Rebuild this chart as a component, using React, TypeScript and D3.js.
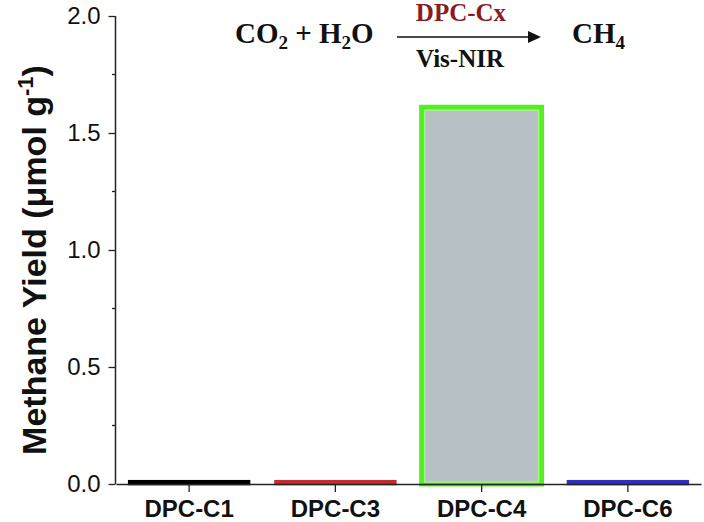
import React, { useRef, useEffect } from "react";
import * as d3 from "d3";

const categories = ["DPC-C1", "DPC-C3", "DPC-C4", "DPC-C6"];
const yields = [0.012, 0.012, 1.61, 0.012];
const barFills = ["#000000", "#C62A2F", "#B7C1C5", "#2F2FC4"];
const barStrokes = ["#000000", "#C62A2F", "#55EE22", "#2F2FC4"];
const yTicks = [0, 0.5, 1.0, 1.5, 2.0];
const yMinorTicks = [0.25, 0.75, 1.25, 1.75];

const App = () => {
  const svgRef = useRef<SVGSVGElement>(null);

  useEffect(() => {
    const width = 704;
    const height = 522;
    const margin = { top: 16, right: 3, bottom: 38, left: 116 };

    const svg = d3
      .select(svgRef.current)
      .attr("width", width)
      .attr("height", height)
      .html("");

    const x = d3
      .scaleBand()
      .domain(categories)
      .range([margin.left, width - margin.right])
      .paddingInner(0.18)
      .paddingOuter(0.09);

    const y = d3
      .scaleLinear()
      .domain([0, 2])
      .range([height - margin.bottom, margin.top]);

    // bars
    categories.forEach((c, i) => {
      const big = yields[i] > 0.5;
      const sw = big ? 5 : 2.5;
      svg
        .append("rect")
        .attr("x", x(c)!)
        .attr("y", y(yields[i]))
        .attr("width", x.bandwidth())
        .attr("height", y(0) - y(yields[i]))
        .attr("fill", barFills[i])
        .attr("stroke", barStrokes[i])
        .attr("stroke-width", sw);
      if (big) {
        svg
          .append("rect")
          .attr("x", x(c)! + 3)
          .attr("y", y(yields[i]) + 3)
          .attr("width", x.bandwidth() - 6)
          .attr("height", y(0) - y(yields[i]) - 5)
          .attr("fill", "none")
          .attr("stroke", "#A6F38A")
          .attr("stroke-width", 1.5);
      }
    });

    // y axis
    const yAxis = svg
      .append("g")
      .attr("transform", `translate(${margin.left - 0.5},0)`)
      .call(d3.axisLeft(y).tickValues(yTicks).tickSize(7).tickFormat(d3.format(".1f")));
    yAxis.select(".domain").attr("stroke", "#222").attr("stroke-width", 1.5).attr("d", `M0,${y(2)}V${y(0)}`);
    yAxis.selectAll(".tick line").attr("stroke", "#222").attr("stroke-width", 1.3);
    yAxis
      .selectAll(".tick text")
      .attr("x", -15)
      .attr("font-family", "Liberation Sans, Arial, sans-serif")
      .attr("font-size", 24)
      .attr("fill", "#111");
    svg
      .append("g")
      .selectAll("line")
      .data(yMinorTicks)
      .join("line")
      .attr("x1", margin.left - 4)
      .attr("x2", margin.left)
      .attr("y1", (d) => y(d))
      .attr("y2", (d) => y(d))
      .attr("stroke", "#222")
      .attr("stroke-width", 1.3);

    // x axis
    const xAxis = svg
      .append("g")
      .attr("transform", `translate(0,${y(0)})`)
      .call(d3.axisBottom(x).tickSize(8).tickSizeOuter(0));
    xAxis.select(".domain").attr("stroke", "#222").attr("stroke-width", 1.5);
    xAxis.selectAll(".tick line").attr("stroke", "#222").attr("stroke-width", 1.3);
    xAxis
      .selectAll(".tick text")
      .attr("y", 16)
      .attr("font-family", "Liberation Sans, Arial, sans-serif")
      .attr("font-weight", "bold")
      .attr("font-size", 24)
      .attr("fill", "#111");

    // y title
    const yt = svg
      .append("text")
      .attr("transform", `translate(46,${(y(0) + y(2)) / 2 + 10}) rotate(-90)`)
      .attr("text-anchor", "middle")
      .attr("font-family", "Liberation Sans, Arial, sans-serif")
      .attr("font-weight", "bold")
      .attr("font-size", 34)
      .attr("fill", "#111");
    yt.append("tspan").text("Methane Yield (\u03bcmol g");
    yt.append("tspan").attr("dy", -13).attr("font-size", 22).text("-1");
    yt.append("tspan").attr("dy", 13).text(")");

    // reaction scheme
    const serif = "Liberation Serif, Times New Roman, serif";
    const eq = svg
      .append("text")
      .attr("x", 235)
      .attr("y", 43)
      .attr("font-family", serif)
      .attr("font-weight", "bold")
      .attr("font-size", 29)
      .attr("fill", "#111");
    eq.append("tspan").text("CO");
    eq.append("tspan").attr("dy", 6).attr("font-size", 19).text("2");
    eq.append("tspan").attr("dy", -6).text(" + H");
    eq.append("tspan").attr("dy", 6).attr("font-size", 19).text("2");
    eq.append("tspan").attr("dy", -6).text("O");

    const prod = svg
      .append("text")
      .attr("x", 572)
      .attr("y", 43)
      .attr("font-family", serif)
      .attr("font-weight", "bold")
      .attr("font-size", 29)
      .attr("fill", "#111");
    prod.append("tspan").text("CH");
    prod.append("tspan").attr("dy", 6).attr("font-size", 19).text("4");

    svg
      .append("line")
      .attr("x1", 397)
      .attr("x2", 530)
      .attr("y1", 37)
      .attr("y2", 37)
      .attr("stroke", "#111")
      .attr("stroke-width", 1.5);
    svg
      .append("path")
      .attr("d", "M528,31 L541,37 L528,43 Z")
      .attr("fill", "#111");

    svg
      .append("text")
      .attr("x", 461)
      .attr("y", 21)
      .attr("text-anchor", "middle")
      .attr("font-family", serif)
      .attr("font-weight", "bold")
      .attr("font-size", 25)
      .attr("fill", "#8B1A22")
      .text("DPC-Cx");
    svg
      .append("text")
      .attr("x", 460)
      .attr("y", 67)
      .attr("text-anchor", "middle")
      .attr("font-family", serif)
      .attr("font-weight", "bold")
      .attr("font-size", 25)
      .attr("fill", "#111")
      .text("Vis-NIR");
  }, []);

  return (
    <svg
      ref={svgRef}
      style={{ position: "absolute", left: 0, top: 0, background: "#fff" }}
    />
  );
};

export default App;
